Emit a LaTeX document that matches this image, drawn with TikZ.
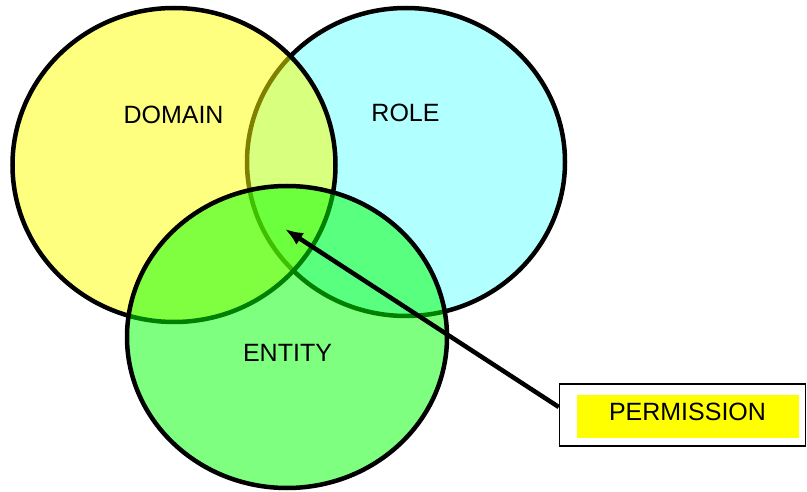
\documentclass[tikz,border=0pt]{standalone}
\usepackage{fontspec}
\setmainfont{Liberation Sans}
\usetikzlibrary{shapes.geometric,arrows.meta}
\definecolor{rolecyan}{RGB}{0,255,255}
\definecolor{domyellow}{RGB}{255,255,0}
\definecolor{entgreen}{RGB}{0,255,0}
\definecolor{permyellow}{RGB}{255,255,0}
\begin{document}
\begin{tikzpicture}[x=1pt,y=-1pt,
  setshape/.style={ellipse, draw=black, line width=4.5pt, inner sep=0pt, fill opacity=0.5, draw opacity=1},
  lbl/.style={font=\fontsize{25}{30}\selectfont, text=black, inner sep=0pt},
  arrowline/.style={line width=4.5pt, -{Latex[length=18pt,width=14pt]}}
]
\useasboundingbox (0,0) rectangle (807,492);
% ROLE first, then DOMAIN, then ENTITY
\node[setshape, fill=rolecyan, fill opacity=0.3, minimum width=318pt, minimum height=308pt] (role) at (406,162) {};
\node[setshape, fill=domyellow, minimum width=323pt, minimum height=314pt] (domain) at (174,165) {};
\node[setshape, fill=entgreen, minimum width=320pt, minimum height=302pt] (entity) at (287,337) {};
\node[lbl] (tdomain) at (173.5,115) {DOMAIN};
\node[lbl] (trole) at (405.5,113) {ROLE};
\node[lbl] (tentity) at (287.5,353) {ENTITY};
% permission box
\node[draw=black, line width=1.5pt, fill=white, minimum width=246pt, minimum height=62pt, inner sep=0pt] (permbox) at (682.5,415) {};
\node[fill=permyellow, minimum width=222pt, minimum height=43pt, inner sep=0pt] (permfill) at (688,416.5) {};
\node[lbl] (tperm) at (687.5,412) {PERMISSION};
\coordinate (tip) at (285,229);
\draw[arrowline] (permbox.west |- 0,407) -- (tip);
\end{tikzpicture}
\end{document}
